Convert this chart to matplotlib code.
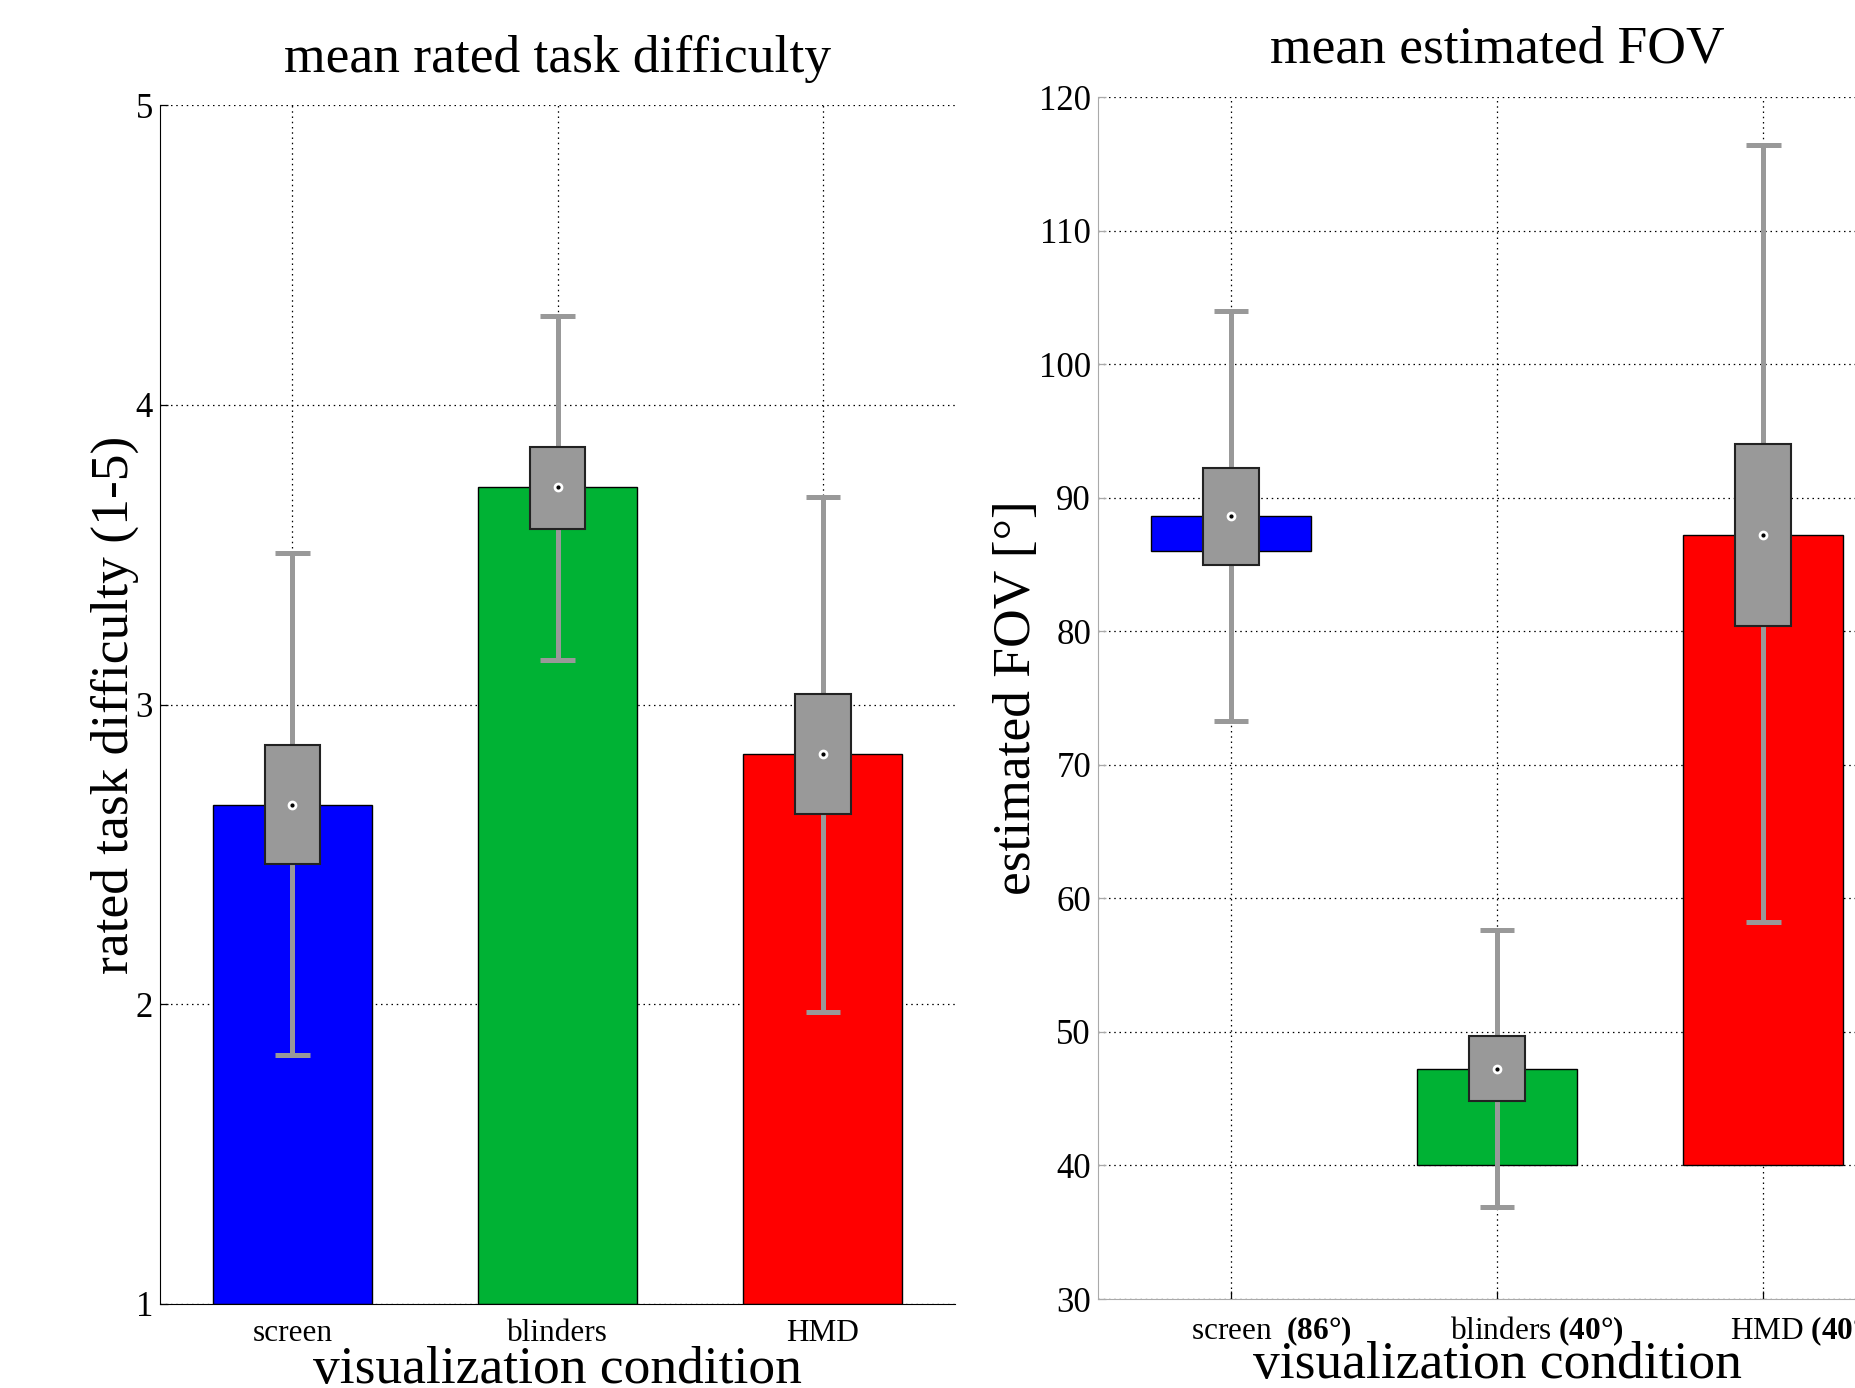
import numpy as np
import matplotlib
matplotlib.use("Agg")
import matplotlib.pyplot as plt
from matplotlib.patches import Rectangle
from matplotlib.transforms import ScaledTranslation

plt.rcParams['font.family'] = ['Liberation Serif', 'DejaVu Serif']
plt.rcParams['mathtext.fontset'] = 'custom'
plt.rcParams['mathtext.rm'] = 'Liberation Serif'
plt.rcParams['mathtext.bf'] = 'Liberation Serif:bold'

# ---- data: rated task difficulty ----
conds = ["screen", "blinders", "HMD"]
diff_mean = [2.666, 3.725, 2.836]
diff_box_lo = [2.469, 3.586, 2.635]
diff_box_hi = [2.864, 3.859, 3.034]
diff_wlo = [1.829, 3.148, 1.975]
diff_whi = [3.507, 4.297, 3.693]

# ---- data: estimated FOV ----
fov_labels = [r"screen  $\mathbf{(86°)}$", r"blinders $\mathbf{(40°)}$", r"HMD $\mathbf{(40°)}$"]
fov_true = [86, 40, 40]
fov_mean = [88.6, 47.2, 87.2]
fov_box_lo = [85.0, 44.8, 80.4]
fov_box_hi = [92.2, 49.7, 94.05]
fov_wlo = [73.3, 36.9, 58.2]
fov_whi = [104.0, 57.6, 116.4]

colors = ["#0000ff", "#00b234", "#ff0000"]
box_gray = "#999999"

fig = plt.figure(figsize=(18.55, 13.88), dpi=100)
ax1 = fig.add_axes([0.0862, 0.0607, 0.4288, 0.8634])
ax2 = fig.add_axes([0.5919, 0.0641, 0.4304, 0.8659])

grid_kw = dict(color="black", linestyle=(0, (1.2, 3)), linewidth=0.9)


def draw_stats(ax, x, bar_lo, bar_hi, blo, bhi, wlo, whi):
    ax.bar(x, np.array(bar_hi) - np.array(bar_lo), bottom=bar_lo, width=0.6,
           color=colors, edgecolor="black", linewidth=1.0, zorder=2)
    ax.vlines(x, wlo, whi, color=box_gray, linewidth=3.6, zorder=3)
    ax.hlines(wlo, x - 0.065, x + 0.065, color=box_gray, linewidth=3.6, zorder=3)
    ax.hlines(whi, x - 0.065, x + 0.065, color=box_gray, linewidth=3.6, zorder=3)
    for xi, lo, hi in zip(x, blo, bhi):
        ax.add_patch(Rectangle((xi - 0.105, lo), 0.21, hi - lo, facecolor=box_gray,
                               edgecolor="#222222", linewidth=1.5, zorder=4))
    ax.plot(x, bar_hi, "o", color="white", markersize=6, zorder=5)
    ax.plot(x, bar_hi, "o", color="black", markersize=2, zorder=6)


x = np.arange(1, 4)

# ---- left panel ----
draw_stats(ax1, x, [1, 1, 1], diff_mean, diff_box_lo, diff_box_hi, diff_wlo, diff_whi)
ax1.set_xlim(0.5, 3.5)
ax1.set_ylim(1, 5)
ax1.set_xticks(x)
ax1.set_xticklabels(conds, fontsize=22.5)
ax1.set_yticks([1, 2, 3, 4, 5])
ax1.tick_params(direction="in", length=6, width=0.9)
ax1.tick_params(axis="y", labelsize=25, pad=5)
ax1.tick_params(axis="x", pad=11)
ax1.set_axisbelow(True)
ax1.grid(True, **grid_kw)
for s in ["top", "right"]:
    ax1.spines[s].set_visible(False)
ax1.set_title("mean rated task difficulty", fontsize=38.5, y=1.032, va="center")
ax1.set_xlabel("visualization condition", fontsize=38.5, va="center")
ax1.xaxis.set_label_coords(0.5, -0.0555)
ax1.set_ylabel("rated task difficulty (1-5)", fontsize=38.5, va="center")
ax1.yaxis.set_label_coords(-0.0566, 0.5)

# ---- right panel ----
draw_stats(ax2, x, fov_true, fov_mean, fov_box_lo, fov_box_hi, fov_wlo, fov_whi)
ax2.set_xlim(0.5, 3.5)
ax2.set_ylim(30, 120)
ax2.set_xticks(x)
ax2.set_xticklabels(fov_labels, fontsize=22.5)
ax2.set_yticks(np.arange(30, 121, 10))
ax2.tick_params(direction="in", length=6, width=0.9)
ax2.tick_params(axis="y", labelsize=25, pad=5, color="#aaaaaa")
ax2.tick_params(axis="x", pad=11)
shift = ScaledTranslation(0.40, 0, fig.dpi_scale_trans)
for lab in ax2.get_xticklabels():
    lab.set_transform(lab.get_transform() + shift)
ax2.set_axisbelow(True)
ax2.grid(True, **grid_kw)
for s in ["top", "right"]:
    ax2.spines[s].set_visible(False)
for s in ["left", "bottom"]:
    ax2.spines[s].set_color("#aaaaaa")
ax2.set_title("mean estimated FOV", fontsize=38.5, y=1.033, va="center")
ax2.set_xlabel("visualization condition", fontsize=38.5, va="center")
ax2.xaxis.set_label_coords(0.5, -0.055)
ax2.set_ylabel("estimated FOV [°]", fontsize=38.5, va="center")
ax2.yaxis.set_label_coords(-0.1015, 0.5)

fig.savefig("out.png", dpi=100)
